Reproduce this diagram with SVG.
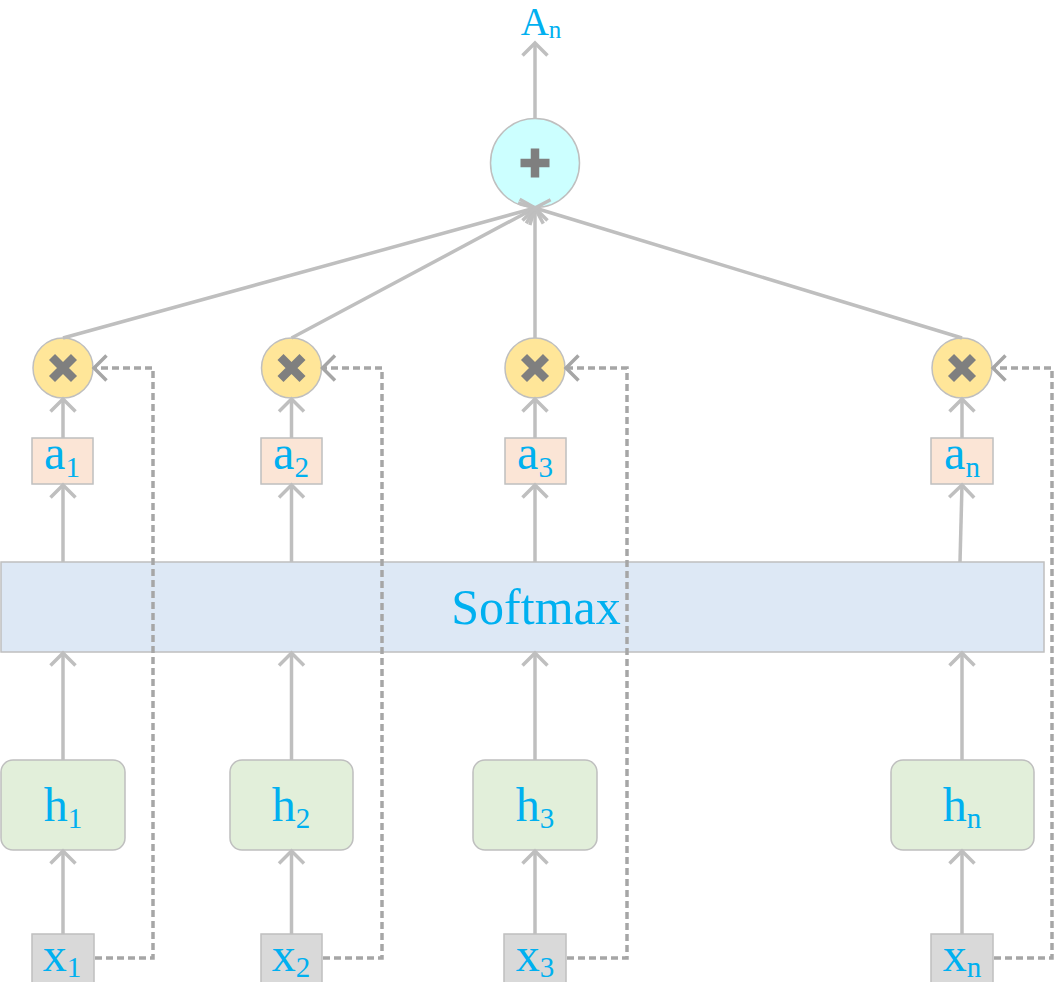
<svg xmlns="http://www.w3.org/2000/svg" width="1055" height="982" viewBox="0 0 1055 982">
<defs>
<style>
.box{stroke:#bfbfbf;stroke-width:1.5}
.mul{fill:#ffe699;stroke:#bfbfbf;stroke-width:1.5}
.sym{stroke:#7f7f7f;stroke-width:8.5;fill:none}
.lbl{font-family:"Liberation Serif","Times New Roman",serif;fill:#00b0f0;font-size:48px}
.sub{font-size:29px}
.arr{stroke:#bfbfbf;stroke-width:3.5;fill:none;marker-end:url(#ah)}
.dash{stroke:#a6a6a6;stroke-width:3.5;fill:none;stroke-dasharray:7 4;marker-end:url(#ahd)}
</style>
<marker id="ah" viewBox="-16 -16 19 32" refX="0" refY="0" markerWidth="19" markerHeight="32" markerUnits="userSpaceOnUse" orient="auto">
<path d="M-12.5,-12.5 L0,0 L-12.5,12.5" stroke="#bfbfbf" stroke-width="3.5" fill="none"/>
</marker>
<marker id="ahd" viewBox="-16 -16 19 32" refX="0" refY="0" markerWidth="19" markerHeight="32" markerUnits="userSpaceOnUse" orient="auto">
<path d="M-12.5,-12.5 L0,0 L-12.5,12.5" stroke="#a6a6a6" stroke-width="3.5" fill="none"/>
</marker>
</defs>
<rect width="1055" height="982" fill="#ffffff"/>

<g id="out">
<text class="lbl" x="541" y="35" text-anchor="middle" style="font-size:39px">A<tspan dy="3" style="font-size:25px">n</tspan></text>
</g>
<g id="plus">
<circle cx="535" cy="163" r="44.5" fill="#ccffff" stroke="#bfbfbf" stroke-width="1.5"/>
<path class="sym" d="M520.5,163 H549.5 M535,148.5 V177.5"/>
</g>

<g id="mul1"><circle class="mul" cx="63" cy="368" r="30"/><path class="sym" d="M52,357 L74,379 M74,357 L52,379"/></g>
<g id="mul2"><circle class="mul" cx="291.5" cy="368" r="30"/><path class="sym" d="M280.5,357 L302.5,379 M302.5,357 L280.5,379"/></g>
<g id="mul3"><circle class="mul" cx="535" cy="368" r="30"/><path class="sym" d="M524,357 L546,379 M546,357 L524,379"/></g>
<g id="muln"><circle class="mul" cx="962" cy="368" r="30"/><path class="sym" d="M951,357 L973,379 M973,357 L951,379"/></g>

<g id="a1"><rect class="box" x="32" y="438" width="61" height="46" fill="#fbe5d6"/><text class="lbl" x="62" y="469" text-anchor="middle">a<tspan class="sub" dy="8">1</tspan></text></g>
<g id="a2"><rect class="box" x="261" y="438" width="61" height="46" fill="#fbe5d6"/><text class="lbl" x="291" y="469" text-anchor="middle">a<tspan class="sub" dy="8">2</tspan></text></g>
<g id="a3"><rect class="box" x="505" y="438" width="61" height="46" fill="#fbe5d6"/><text class="lbl" x="535" y="469" text-anchor="middle">a<tspan class="sub" dy="8">3</tspan></text></g>
<g id="an"><rect class="box" x="931" y="438" width="62" height="46" fill="#fbe5d6"/><text class="lbl" x="962" y="469" text-anchor="middle">a<tspan class="sub" dy="8">n</tspan></text></g>

<g id="softmax"><rect class="box" x="1" y="562" width="1043" height="90" fill="#dde8f5"/><text class="lbl" x="536" y="624" text-anchor="middle" style="font-size:50px">Softmax</text></g>

<g id="h1"><rect class="box" x="1" y="760" width="124" height="90" rx="12" fill="#e2efda"/><text class="lbl" x="63" y="821" text-anchor="middle">h<tspan class="sub" dy="7">1</tspan></text></g>
<g id="h2"><rect class="box" x="230" y="760" width="123" height="90" rx="12" fill="#e2efda"/><text class="lbl" x="291" y="821" text-anchor="middle">h<tspan class="sub" dy="7">2</tspan></text></g>
<g id="h3"><rect class="box" x="473" y="760" width="124" height="90" rx="12" fill="#e2efda"/><text class="lbl" x="535" y="821" text-anchor="middle">h<tspan class="sub" dy="7">3</tspan></text></g>
<g id="hn"><rect class="box" x="891" y="760" width="143" height="90" rx="12" fill="#e2efda"/><text class="lbl" x="962" y="821" text-anchor="middle">h<tspan class="sub" dy="7">n</tspan></text></g>

<g id="x1"><rect class="box" x="32" y="934" width="62" height="52" fill="#d9d9d9"/><text class="lbl" x="62" y="971" text-anchor="middle">x<tspan class="sub" dy="6">1</tspan></text></g>
<g id="x2"><rect class="box" x="261" y="934" width="61" height="52" fill="#d9d9d9"/><text class="lbl" x="291" y="971" text-anchor="middle">x<tspan class="sub" dy="6">2</tspan></text></g>
<g id="x3"><rect class="box" x="504" y="934" width="62" height="52" fill="#d9d9d9"/><text class="lbl" x="535" y="971" text-anchor="middle">x<tspan class="sub" dy="6">3</tspan></text></g>
<g id="xn"><rect class="box" x="931" y="934" width="62" height="52" fill="#d9d9d9"/><text class="lbl" x="962" y="971" text-anchor="middle">x<tspan class="sub" dy="6">n</tspan></text></g>

<g id="connectors">
<line class="arr" x1="535" y1="118" x2="535" y2="43"/>
<line class="arr" x1="63" y1="338" x2="535" y2="208"/>
<line class="arr" x1="291.5" y1="338" x2="535" y2="208"/>
<line class="arr" x1="535" y1="338" x2="535" y2="208"/>
<line class="arr" x1="962" y1="338" x2="535" y2="208"/>

<line class="arr" x1="63" y1="438" x2="63" y2="399"/>
<line class="arr" x1="291.5" y1="438" x2="291.5" y2="399"/>
<line class="arr" x1="535" y1="438" x2="535" y2="399"/>
<line class="arr" x1="962" y1="438" x2="962" y2="399"/>

<line class="arr" x1="63" y1="562" x2="63" y2="485"/>
<line class="arr" x1="291.5" y1="562" x2="291.5" y2="485"/>
<line class="arr" x1="535" y1="562" x2="535" y2="485"/>
<line class="arr" x1="960" y1="562" x2="962" y2="485"/>

<line class="arr" x1="63" y1="760" x2="63" y2="653"/>
<line class="arr" x1="291.5" y1="760" x2="291.5" y2="653"/>
<line class="arr" x1="535" y1="760" x2="535" y2="653"/>
<line class="arr" x1="962" y1="760" x2="962" y2="653"/>

<line class="arr" x1="63" y1="934" x2="63" y2="851"/>
<line class="arr" x1="291.5" y1="934" x2="291.5" y2="851"/>
<line class="arr" x1="535" y1="934" x2="535" y2="851"/>
<line class="arr" x1="962" y1="934" x2="962" y2="851"/>

<polyline class="dash" points="95,958 153,958 153,368 94,368"/>
<polyline class="dash" points="323,958 382,958 382,368 322.5,368"/>
<polyline class="dash" points="567,958 627,958 627,368 566,368"/>
<polyline class="dash" points="994,958 1052,958 1052,368 993,368"/>
</g>
</svg>
